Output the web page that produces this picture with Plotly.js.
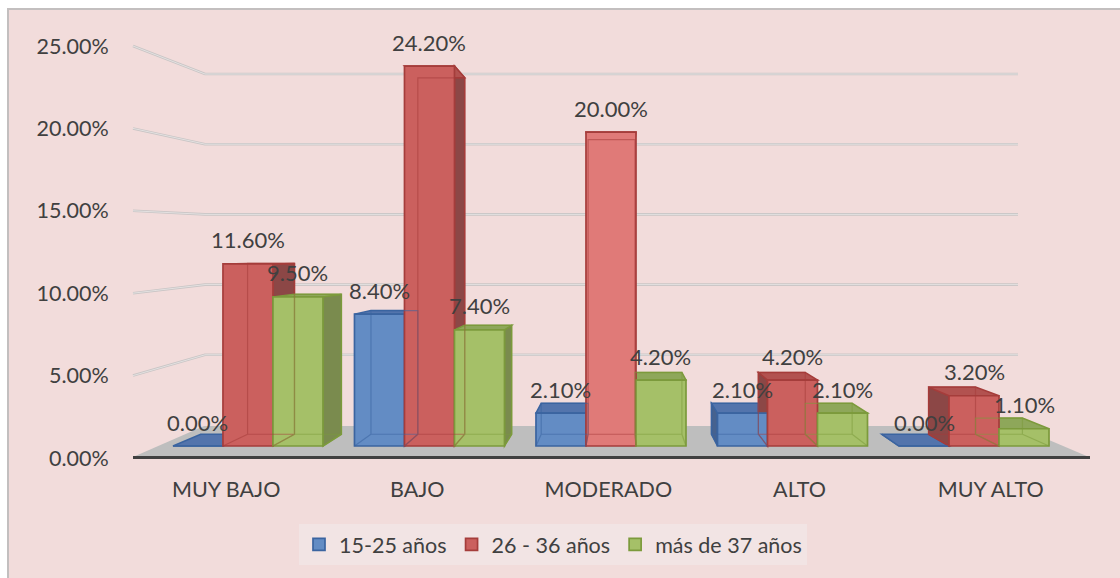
<!DOCTYPE html>
<html><head><meta charset="utf-8">
<script src="https://cdn.plot.ly/plotly-3.0.1.min.js"></script>
<style>
html,body{margin:0;padding:0;background:#fff;overflow:hidden;}
#bg{position:absolute;left:7px;top:8px;width:1113px;height:570px;background:#F2DCDB;border-left:2px solid #C3BFBF;border-top:2px solid #C3BFBF;box-sizing:border-box;}
#chart{position:absolute;left:0;top:0;width:1120px;height:578px;}
</style></head><body><div id="bg"></div><div id="chart"></div>
<script>
// ---- data ----
const categories = ['MUY BAJO', 'BAJO', 'MODERADO', 'ALTO', 'MUY ALTO'];
const seriesNames = ['15-25 años', '26 - 36 años', 'más de 37 años'];
const serie1525 = [0.0, 8.4, 2.1, 2.1, 0.0];
const serie2636 = [11.6, 24.2, 20.0, 4.2, 3.2];
const serie37 = [9.5, 7.4, 4.2, 2.1, 1.1];
const yTicks = [0, 5, 10, 15, 20, 25];
const yTickText = yTicks.map(t => t.toFixed(2) + '%');

// ---- styles ----
const series = [serie1525, serie2636, serie37];
const frontCol = [['#638CC4'], ['#CB605E', '#CB605E', '#E07A78', '#CB605E', '#CB605E'], ['#A5C068']];
const lineCol = ['#3B64A0', '#A53D3B', '#7C9A3C'];
const sideCol = ['#46628F', '#8C4746', '#7A8B4E'];
const topCol = ['#5374AC', '#B25250', '#8EA75A'];
const hidCol = ['rgba(59,100,160,0.55)', 'rgba(165,61,59,0.55)', 'rgba(124,154,60,0.55)'];
const txt = '#404040';
const FONT = 'Lato, "Open Sans", sans-serif';
const FS = 21.5;

const W = 1120, H = 578, L = 126, R = 34, T = 46, B = 120;
const PW = W - L - R, PH = H - T - B;
const xLabRange = [-0.524, 4.499];
const xBarRange = [-0.672, 4.617];
const yBarRange = [-0.764, 25.48];
const bargap = 0.1736;
const w = (1 - bargap) / 3;
// vanishing point (pixels) and depth factor
const VPX = 620, VPY = 256, K = 0.062;
const xv = xBarRange[0] + (VPX - L) / PW * (xBarRange[1] - xBarRange[0]);
const yv = yBarRange[0] + (H - B - VPY) / PH * (yBarRange[1] - yBarRange[0]);
function back(p) { return [p[0] + (xv - p[0]) * K, p[1] + (yv - p[1]) * K]; }
function pathOf(pts) { return 'M' + pts.map(p => p[0] + ',' + p[1]).join('L') + 'Z'; }
function px2X(px) { return (px - L) / PW; }
function px2Y(py) { return (H - B - py) / PH; }

const shapes = [];
// floor
shapes.push({type: 'path', xref: 'paper', yref: 'paper', layer: 'below',
  path: pathOf([[px2X(133), px2Y(457)], [px2X(204), px2Y(426)], [px2X(1016), px2Y(426)], [px2X(1089), px2Y(457)]]),
  fillcolor: '#BEBEBE', line: {width: 0}});
shapes.push({type: 'line', xref: 'paper', yref: 'paper', layer: 'below',
  x0: px2X(133), x1: px2X(1090), y0: px2Y(457.5), y1: px2Y(457.5), line: {color: '#404040', width: 3}});
// back wall gridlines (front tick scale -> back wall scale)
yTicks.forEach(t => {
  if (t === 0) return;
  const yF = 458 - t * 16.48, yB = 425 - t * 14.04;
  const p = 'M' + px2X(133) + ',' + px2Y(yF) + 'L' + px2X(205) + ',' + px2Y(yB) + 'L' + px2X(1018) + ',' + px2Y(yB);
  shapes.push({type: 'path', xref: 'paper', yref: 'paper', layer: 'below', path: p, line: {color: '#C9C5C5', width: 2.6}});
  shapes.push({type: 'path', xref: 'paper', yref: 'paper', layer: 'below', path: p, line: {color: '#E4E1E1', width: 1}});
});

const above = [];
const annotations = [];
for (let i = 0; i < categories.length; i++) {
  for (let s = 0; s < 3; s++) {
    const v = series[s][i];
    const x0 = i + (s - 1) * w - w / 2, x1 = x0 + w;
    const FBL = [x0, 0], FBR = [x1, 0], FTL = [x0, v], FTR = [x1, v];
    const BBL = back(FBL), BBR = back(FBR), BTL = back(FTL), BTR = back(FTR);
    if (xv > x1) {
      shapes.push({type: 'path', xref: 'x2', yref: 'y2', layer: 'below', path: pathOf([FBR, FTR, BTR, BBR]),
        fillcolor: sideCol[s], line: {color: lineCol[s], width: 1.5}});
    } else if (xv < x0) {
      shapes.push({type: 'path', xref: 'x2', yref: 'y2', layer: 'below', path: pathOf([FBL, FTL, BTL, BBL]),
        fillcolor: sideCol[s], line: {color: lineCol[s], width: 1.5}});
    }
    shapes.push({type: 'path', xref: 'x2', yref: 'y2', layer: 'below', path: pathOf([FTL, FTR, BTR, BTL]),
      fillcolor: topCol[s], line: {color: lineCol[s], width: 1.5}});
    if (v > 0) {
      above.push({type: 'path', xref: 'x2', yref: 'y2', layer: 'above',
        path: 'M' + BBL.join(',') + 'L' + BBR.join(',') + 'L' + BTR.join(',') + 'L' + BTL.join(',') + 'Z' +
              'M' + FBL.join(',') + 'L' + BBL.join(',') + 'M' + FBR.join(',') + 'L' + BBR.join(','),
        line: {color: hidCol[s], width: 1.2}});
    }
    annotations.push({xref: 'x2', yref: 'y2', x: (x0 + x1) / 2, y: v, yshift: 24, showarrow: false,
      text: v.toFixed(2) + '%', font: {family: FONT, size: 22, color: txt}});
  }
}

const traces = series.map((vals, s) => ({
  type: 'bar', name: seriesNames[s], x: categories, y: vals, xaxis: 'x2', yaxis: 'y2',
  marker: {color: frontCol[s].length > 1 ? frontCol[s] : frontCol[s][0], line: {color: lineCol[s], width: 1.7}},
  hoverinfo: 'skip'
}));
// invisible helper so the label axes (x / y) are drawn
traces.unshift({type: 'scatter', mode: 'none', x: [0], y: [0], xaxis: 'x', yaxis: 'y', showlegend: false, hoverinfo: 'skip'});

const layout = {
  width: W, height: H,
  margin: {l: L, r: R, t: T, b: B},
  paper_bgcolor: 'rgba(0,0,0,0)', plot_bgcolor: 'rgba(0,0,0,0)',
  font: {family: FONT, size: FS, color: txt},
  barmode: 'group', bargap: bargap, bargroupgap: 0,
  showlegend: true,
  legend: {orientation: 'h', x: px2X(553), xanchor: 'center', y: px2Y(524), yanchor: 'top',
    bgcolor: '#F2E4E4', font: {family: FONT, size: FS, color: txt}, traceorder: 'normal'},
  xaxis: {type: 'linear', range: xLabRange, tickvals: categories.map((c, i) => i), ticktext: categories,
    showgrid: false, zeroline: false, showline: false, ticks: 'outside', ticklen: 12, tickcolor: 'rgba(0,0,0,0)',
    tickfont: {family: FONT, size: FS, color: txt}, fixedrange: true},
  xaxis2: {type: 'category', overlaying: 'x', anchor: 'y2', range: xBarRange, showticklabels: false,
    showgrid: false, zeroline: false, showline: false, ticks: ''},
  yaxis: {range: [0, 25], tickvals: yTicks, ticktext: yTickText, showgrid: false, zeroline: false,
    showline: false, ticks: 'outside', ticklen: 12, tickcolor: 'rgba(0,0,0,0)', tickfont: {family: FONT, size: FS, color: txt}},
  yaxis2: {overlaying: 'y', range: yBarRange, showticklabels: false, showgrid: false, zeroline: false, showline: false, ticks: ''},
  shapes: shapes.concat(above),
  annotations: annotations
};
Plotly.newPlot('chart', traces, layout, {staticPlot: true, displayModeBar: false});
</script></body></html>
